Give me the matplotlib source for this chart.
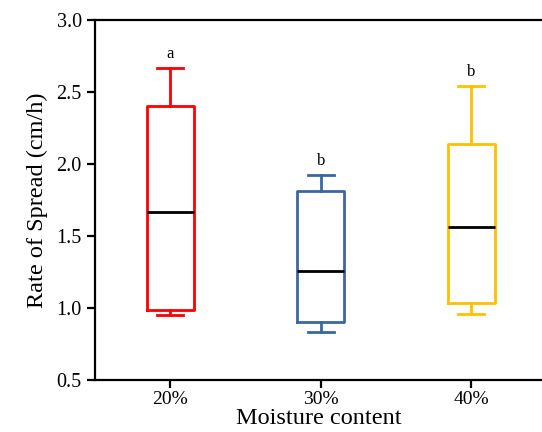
import matplotlib
matplotlib.use("Agg")
import matplotlib.pyplot as plt

# Data
groups = ["20%", "30%", "40%"]
whis_lo = [0.95, 0.835, 0.955]
q1 = [0.985, 0.905, 1.035]
median = [1.67, 1.255, 1.56]
q3 = [2.40, 1.815, 2.14]
whis_hi = [2.67, 1.925, 2.545]
letters = ["a", "b", "b"]
colors = ["#FF0000", "#3A67A0", "#FFC000"]

plt.rcParams["font.family"] = ["Liberation Serif", "DejaVu Serif"]

fig = plt.figure(figsize=(5.42, 4.32), dpi=100)
ax = fig.add_axes([95 / 542, 52 / 432, 447 / 542, 360 / 432])

stats = []
for i in range(len(groups)):
    stats.append({"whislo": whis_lo[i], "q1": q1[i], "med": median[i],
                  "q3": q3[i], "whishi": whis_hi[i], "fliers": [],
                  "label": groups[i]})

bp = ax.bxp(stats, positions=[1, 2, 3], widths=0.31, showfliers=False,
            patch_artist=False)

for i, c in enumerate(colors):
    bp["boxes"][i].set(color=c, linewidth=2)
    bp["medians"][i].set(color="black", linewidth=2)
    for w in bp["whiskers"][2 * i:2 * i + 2]:
        w.set(color=c, linewidth=2)
    for cap in bp["caps"][2 * i:2 * i + 2]:
        cap.set(color=c, linewidth=2)
        x0, x1 = cap.get_xdata()
        mid = (x0 + x1) / 2
        cap.set_xdata([mid - 0.085, mid + 0.085])

for i, t in enumerate(letters):
    ax.text(i + 1, whis_hi[i] + 0.04, t, ha="center", va="bottom", fontsize=12)

ax.set_xlim(0.5, 3.47)
ax.set_ylim(0.5, 3.0)
ax.set_yticks([0.5, 1.0, 1.5, 2.0, 2.5, 3.0])
ax.set_yticklabels(["0.5", "1.0", "1.5", "2.0", "2.5", "3.0"])
ax.set_xticks([1, 2, 3])
ax.set_xticklabels(groups)

ax.spines["right"].set_visible(False)
for s in ["left", "top", "bottom"]:
    ax.spines[s].set_linewidth(1.6)
ax.tick_params(axis="both", direction="out", length=6, width=1.6, labelsize=14.5)
ax.tick_params(axis="x", labelsize=14, pad=2)

ax.set_xlabel("Moisture content", fontsize=17.5, labelpad=0)
ax.set_ylabel("Rate of Spread (cm/h)", fontsize=17.5, labelpad=6)

fig.savefig("out.png", dpi=100)
